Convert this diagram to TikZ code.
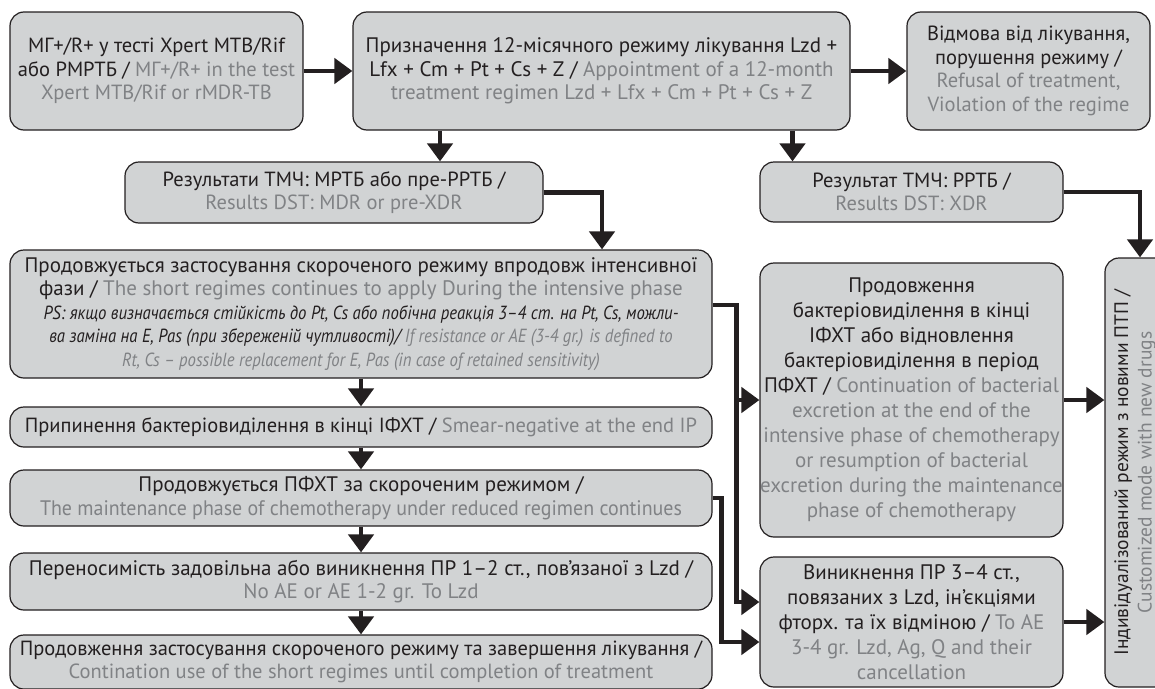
\documentclass[tikz,border=0pt]{standalone}
\usepackage{fontspec}
\setmainfont{PT Sans}
\newfontfamily\psfont{PT Sans}[FakeStretch=0.88]
\newfontfamily\narrowfont{PT Sans}[FakeStretch=0.95]
\usetikzlibrary{arrows.meta}

\definecolor{boxfill}{HTML}{D1D3D4}
\definecolor{boxline}{HTML}{231F20}
\definecolor{engray}{HTML}{808285}
\newcommand{\en}[1]{\textcolor{engray}{#1}}
\newcommand{\ps}{\psfont\itshape\fontsize{19}{23.5}\selectfont}

\tikzset{
  block/.style={draw=boxline, line width=1.2pt, fill=boxfill, rounded corners=14pt,
    align=center, text=boxline, inner sep=0pt, font=\fontsize{20.5}{23.5}\selectfont},
  wideblock/.style={block, font=\fontsize{21}{23.5}\selectfont},
  bigblock/.style={block, font=\fontsize{21}{25}\selectfont},
  flow/.style={draw=boxline, line width=4.5pt, -{Triangle[width=25pt,length=18pt]}},
}

\begin{document}
\begin{tikzpicture}[x=1pt,y=-1pt]
  \useasboundingbox (0,0) rectangle (1155,688);
  \clip (0,0) rectangle (1155,688);

  \node[block, minimum width=293pt, minimum height=118pt] (mtb) at (156.5,71)
    {МГ+/R+ у тесті Xpert MTB/Rif\\ або РМРТБ / \en{МГ+/R+ in the test}\\ \en{Xpert MTB/Rif or rMDR-TB}};

  \node[wideblock, minimum width=497pt, minimum height=118pt] (regimen) at (601.5,71)
    {Призначення 12-місячного режиму лікування Lzd +\\
     Lfx + Cm + Pt + Cs + Z / \en{Appointment of a 12-month}\\
     \en{treatment regimen Lzd + Lfx + Cm + Pt + Cs + Z}};

  \node[block, minimum width=243pt, minimum height=118pt] (refusal) at (1028.5,71)
    {Відмова від лікування,\\ порушення режиму /\\ \en{Refusal of treatment,}\\ \en{Violation of the regime}};

  \node[block, minimum width=418pt, minimum height=61pt] (mdr) at (334,192.5)
    {Результати ТМЧ: МРТБ або пре-РРТБ /\\ \en{Results DST: MDR or pre-XDR}};

  \node[block, minimum width=303pt, minimum height=60pt] (xdr) at (911.5,192)
    {Результат ТМЧ: РРТБ /\\ \en{Results DST: XDR}};

  \node[wideblock, minimum width=702pt, minimum height=128pt] (continue) at (361,314)
    {Продовжується застосування скороченого режиму впродовж інтенсивної\\
     фази / \en{The short regimes continues to apply During the intensive phase}\\
     {\ps PS: якщо визначається стійкість до Pt, Cs або побічна реакція 3–4 ст. на Pt, Cs, можли-}\\
     {\ps ва заміна на E, Pas (при збереженій чутливості)/ \en{If resistance or AE (3-4 gr.) is defined to}}\\
     {\ps\en{Rt, Cs – possible replacement for E, Pas (in case of retained sensitivity)}}};

  \node[block, minimum width=702pt, minimum height=40pt] (negative) at (361,427)
    {Припинення бактеріовиділення в кінці ІФХТ / \en{Smear-negative at the end IP}};

  \node[wideblock, minimum width=702pt, minimum height=56pt] (maintain) at (361,498)
    {Продовжується ПФХТ за скороченим режимом /\\
     {\narrowfont\en{The maintenance phase of chemotherapy under reduced regimen continues}}};

  \node[wideblock, minimum width=702pt, minimum height=57pt] (tolerance) at (361,581.5)
    {Переносимість задовільна або виникнення ПР 1–2 ст., пов’язаної з Lzd /\\
     \en{No AE or AE 1-2 gr. To Lzd}};

  \node[block, minimum width=702pt, minimum height=54pt] (complete) at (361,662)
    {Продовження застосування скороченого режиму та завершення лікування /\\
     \en{Contination use of the short regimes until completion of treatment}};

  \node[bigblock, minimum width=303pt, minimum height=274pt] (excretion) at (911.5,400)
    {Продовження\\ бактеріовиділення в кінці\\ ІФХТ або відновлення\\
     бактеріовиділення в період\\ ПФХТ / \en{Continuation of bacterial}\\
     \en{excretion at the end of the}\\ \en{intensive phase of chemotherapy}\\
     \en{or resumption of bacterial}\\ \en{excretion during the maintenance}\\
     \en{phase of chemotherapy}};

  \node[bigblock, minimum width=303pt, minimum height=130pt] (adverse) at (911.5,622)
    {Виникнення ПР 3–4 ст.,\\ повязаних з Lzd, ін’єкціями\\ фторх. та їх відміною / \en{To AE}\\
     \en{3-4 gr. Lzd, Ag, Q and their}\\ \en{cancellation}};

  \node[block, minimum width=70pt, minimum height=429pt] (custom) at (1140,472.5) {};
  \node[rotate=90, align=center, text=boxline, font=\fontsize{19.5}{23.5}\selectfont] (customtext) at (1135,472.5)
    {Індивідуалізований режим з новими ПТП /\\ \en{Customized mode with new drugs}};

  \draw[flow] (mtb) -- (regimen);
  \draw[flow] (regimen) -- (refusal);
  \draw[flow] ([xshift=106pt]mdr.north |- regimen.south) -- ([xshift=106pt]mdr.north);
  \draw[flow] ([xshift=-119pt]xdr.north |- regimen.south) -- ([xshift=-119pt]xdr.north);
  \draw[flow] (mdr.east) -| ([xshift=241pt]continue.north);
  \draw[flow] (xdr.east) -| (custom.north);

  \draw[flow] (continue) -- (negative);
  \draw[flow] (negative) -- (maintain);
  \draw[flow] (maintain) -- (tolerance);
  \draw[flow] (tolerance) -- (complete);

  \draw[flow] ([yshift=9pt]continue.east) -| ([xshift=-23pt,yshift=20pt]adverse.west) -- ([yshift=20pt]adverse.west);
  \draw[flow] ([xshift=-23pt]excretion.west) -- (excretion.west);
  \draw[flow] (maintain.east) -| ([xshift=-38pt,yshift=-20pt]adverse.west) -- ([yshift=-20pt]adverse.west);

  \draw[flow] (excretion.east) -- (excretion.east -| custom.west);
  \draw[flow] (adverse.east) -- (adverse.east -| custom.west);
\end{tikzpicture}
\end{document}
